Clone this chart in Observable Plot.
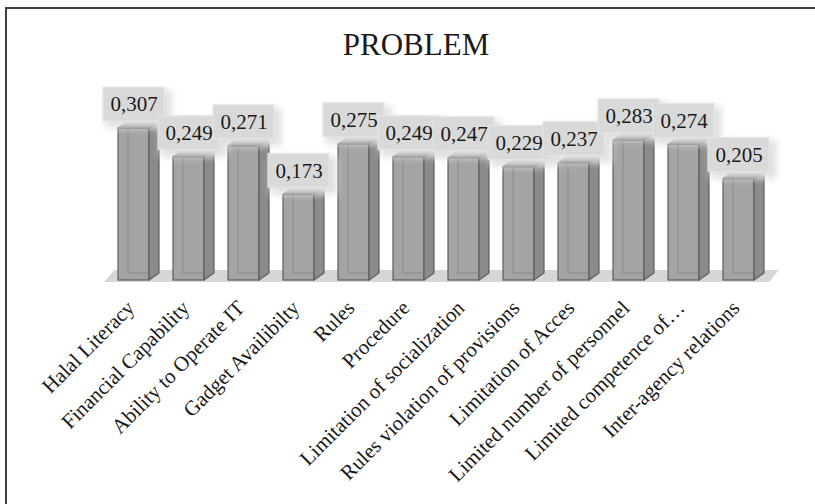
<!DOCTYPE html>
<html><head><meta charset="utf-8">
<script src="https://cdn.jsdelivr.net/npm/d3@7"></script>
<script src="https://cdn.jsdelivr.net/npm/@observablehq/plot@0.6"></script>
<style>
body{margin:0;background:#fff;}
#wrap{position:relative;width:815px;height:504px;overflow:hidden;background:#fff;}
#frame{position:absolute;left:5px;top:7px;right:-10px;bottom:-10px;border-top:2px solid #404040;border-left:2px solid #404040;pointer-events:none;}
</style></head><body>
<div id="wrap"><div id="chart"></div><div id="frame"></div></div>
<script>
const categories = ["Halal Literacy", "Financial Capability", "Ability to Operate IT", "Gadget Availibilty", "Rules", "Procedure", "Limitation of socialization", "Rules violation of provisions", "Limitation of Acces", "Limited number of personnel", "Limited competence of…", "Inter-agency relations"];
const values = [0.307, 0.249, 0.271, 0.173, 0.275, 0.249, 0.247, 0.229, 0.237, 0.283, 0.274, 0.205];
const title = "PROBLEM";

const data = categories.map((cat, i) => ({cat, value: values[i], label: values[i].toFixed(3).replace(".", ",")}));
const FONT = "'Liberation Serif', 'DejaVu Serif', serif";
const DX = 10, DY = 7;
const bwOf = s => (typeof s.bandwidth === "function" ? s.bandwidth() : s.bandwidth);

const floorMark = (index, scales) => {
  const sx = scales.x, sy = scales.y, b = bwOf(sx);
  const x0 = sx(categories[0]) - 14, x1 = sx(categories[categories.length - 1]) + b + 15, y0 = sy(0);
  const g = d3.create("svg:g");
  g.append("polygon").attr("points", [[x0, y0 + 2], [x1, y0 + 2], [x1 + 10, y0 - 10], [x0 + 10, y0 - 10]].join(" ")).attr("fill", "#d6d6d6");
  return g.node();
};

const bar3d = (index, scales) => {
  const sx = scales.x, sy = scales.y, b = bwOf(sx), y0 = sy(0);
  const g = d3.create("svg:g");
  for (const d of data) {
    const xl = sx(d.cat), xr = xl + b, yt = sy(d.value);
    g.append("path").attr("d", `M${xl + DX},${yt}V${y0 - DY}H${xr}`).attr("fill", "none").attr("stroke", "#8a8a8a").attr("stroke-width", 1);
    g.append("polygon").attr("points", [[xr, yt], [xr + DX, yt - DY], [xr + DX, y0 - DY], [xr, y0]].join(" "))
      .attr("fill", "#8b8b8b").attr("stroke", "#5e5e5e").attr("stroke-width", 1.2).attr("stroke-linejoin", "round");
    g.append("polygon").attr("points", [[xl, yt], [xl + DX, yt - DY], [xr + DX, yt - DY], [xr, yt]].join(" "))
      .attr("fill", "#6c6c6c").attr("stroke", "#5e5e5e").attr("stroke-width", 1.2).attr("stroke-linejoin", "round");
  }
  return g.node();
};

const boxes = (index, scales) => {
  const sx = scales.x, sy = scales.y, b = bwOf(sx);
  const g = d3.create("svg:g");
  const defs = g.append("defs");
  defs.append("filter").attr("id", "lblur").attr("x", "-30%").attr("y", "-30%").attr("width", "160%").attr("height", "160%")
    .append("feGaussianBlur").attr("stdDeviation", 3.5);
  for (const d of data) {
    const cx = sx(d.cat) + b / 2, yt = sy(d.value);
    g.append("rect").attr("x", cx - 28).attr("y", yt - 38).attr("width", 66).attr("height", 38)
      .attr("fill", "#e0e0e0").attr("filter", "url(#lblur)");
  }
  for (const d of data) {
    const cx = sx(d.cat) + b / 2, yt = sy(d.value);
    g.append("rect").attr("x", cx - 30.5).attr("y", yt - 41).attr("width", 61).attr("height", 34)
      .attr("fill", "#d9d9d9").attr("stroke", "#e6e6e6").attr("stroke-width", 1);
  }
  return g.node();
};

const chart = Plot.plot({
  width: 815,
  height: 504,
  marginTop: 0, marginRight: 0, marginBottom: 0, marginLeft: 0,
  style: {fontFamily: FONT, background: "transparent", overflow: "visible"},
  x: {type: "band", domain: categories, range: [103.8, 767.4], paddingInner: 0.44, paddingOuter: 0.22, axis: null},
  y: {domain: [0, 0.5], range: [280, 32.5], axis: null},
  marks: [
    floorMark,
    Plot.barY(data, {x: "cat", y: "value", fill: "#a4a4a4", stroke: "#5e5e5e", strokeWidth: 1.2}),
    bar3d,
    boxes,
    Plot.text(data, {x: "cat", y: "value", text: "label", dy: -24, fontSize: 21, fill: "#1a1a1a", fontFamily: FONT}),
    Plot.text(data, {x: "cat", y: () => 0, text: "cat", rotate: -45, textAnchor: "end", dx: -3, dy: 24, fontSize: 21, fill: "#1a1a1a", fontFamily: FONT}),
    Plot.text([title], {frameAnchor: "top", text: d => d, dx: 8, dy: 32, fontSize: 31, fill: "#1a1a1a", fontFamily: FONT})
  ]
});
document.getElementById("chart").appendChild(chart);
</script>
</body></html>
